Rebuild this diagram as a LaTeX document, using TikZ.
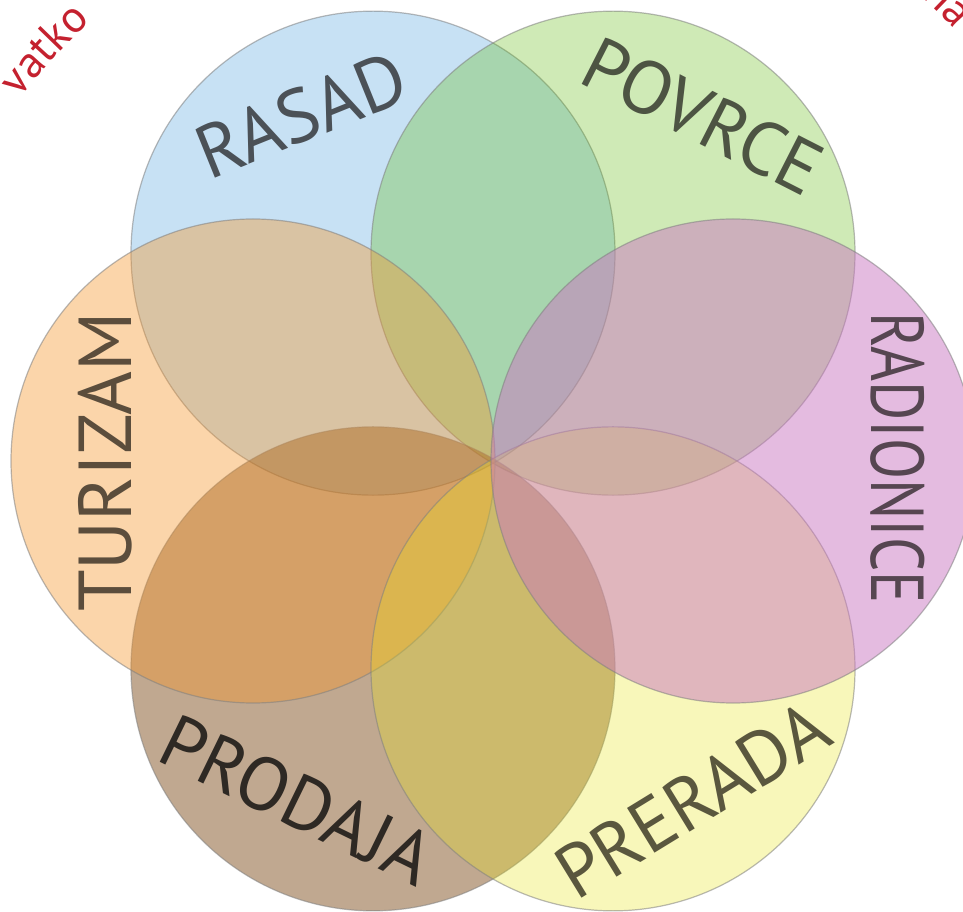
\documentclass[tikz,border=0pt]{standalone}
\usepackage{fontspec}
\setmainfont{PT Sans}
\usepackage{tikz}
\usetikzlibrary{decorations.text}
\definecolor{rasadc}{HTML}{8FC3E9}
\definecolor{povrcec}{HTML}{5FB90C}
\definecolor{turizamc}{HTML}{F5962B}
\definecolor{prodajac}{HTML}{815121}
\definecolor{preradac}{HTML}{E8E419}
\definecolor{radionicec}{HTML}{C977C1}
\definecolor{rasadt}{HTML}{4B5157}
\definecolor{povrcet}{HTML}{4D5443}
\definecolor{turizamt}{HTML}{5B4D3C}
\definecolor{radionicet}{HTML}{564651}
\definecolor{prodajat}{HTML}{2E2924}
\definecolor{preradat}{HTML}{5A573E}
\definecolor{ringc}{HTML}{C4212F}
\tikzset{
  petal/.style={draw=gray,draw opacity=0.55,line width=1.2pt},
  lbl/.style={font=\fontsize{75}{75}\selectfont,inner sep=0pt},
  ringtext/.style={decorate,decoration={text along path,text align=center,text color=ringc,
    text={|\fontsize{45}{45}\selectfont|#1}}}
}

\begin{document}
\begin{tikzpicture}[x=1pt,y=1pt]
\useasboundingbox (0,0) rectangle (963,911);
\coordinate (c) at (493,450);
\foreach \ang/\col/\op in {120/rasadc/0.5,60/povrcec/0.3,240/prodajac/0.5,180/turizamc/0.4,300/preradac/0.3,0/radionicec/0.5}
  \draw[petal,fill=\col,fill opacity=\op] (c) ++(\ang:240) circle (242);
\node[lbl,text=rasadt,rotate=22] (rasad) at (301,796) {RASAD};
\node[lbl,text=povrcet,rotate=-27] (povrce) at (703,795) {POVRCE};
\node[lbl,text=turizamt,rotate=90] (turizam) at (105,449) {TURIZAM};
\node[lbl,text=radionicet,rotate=-90,xscale=0.8] (radionice) at (898,453) {RADIONICE};
\node[lbl,text=prodajat,rotate=-26] (prodaja) at (297,111) {PRODAJA};
\node[lbl,text=preradat,rotate=31.5] (prerada) at (692,111) {PRERADA};
\path[ringtext=vatko] (c) ++(143:596) arc[start angle=143,end angle=132,radius=596];
\path[ringtext=na] (c) ++(49:632) arc[start angle=49,end angle=41.4,radius=632];
\end{tikzpicture}
\end{document}
